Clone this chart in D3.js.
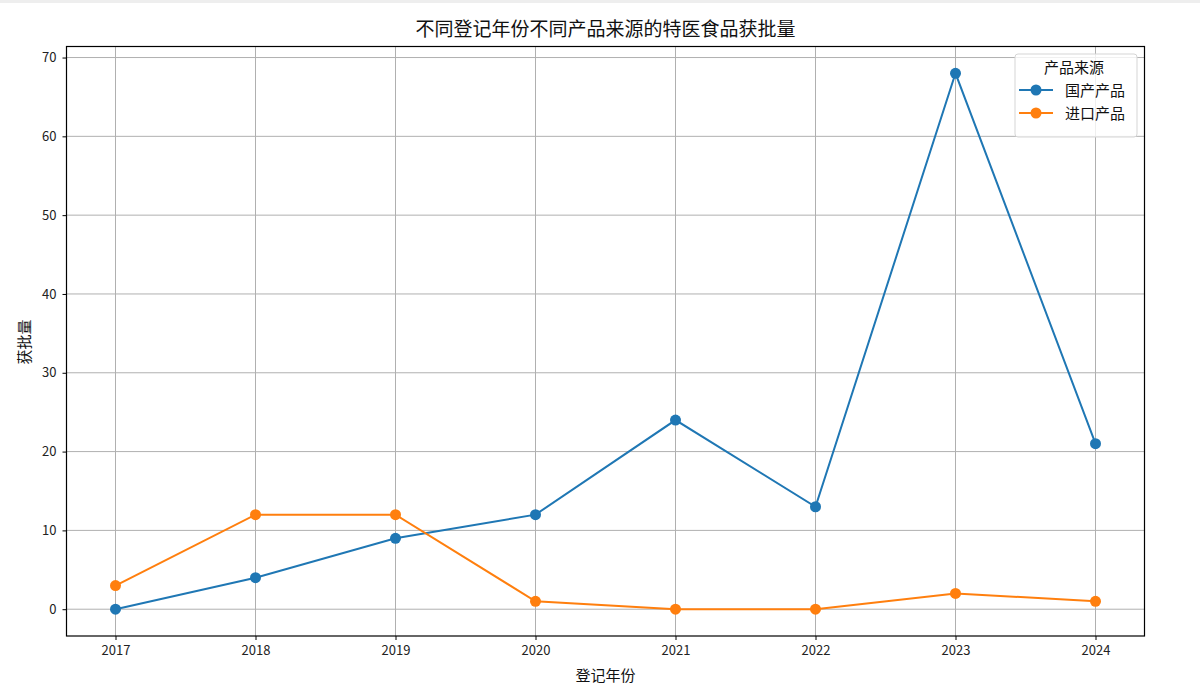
<!DOCTYPE html>
<html><head><meta charset="utf-8">
<script src="https://cdn.jsdelivr.net/npm/d3@7"></script>
<style>
html,body{margin:0;padding:0;background:#fff;}
svg{display:block;font-family:"Noto Sans CJK SC","DejaVu Sans",sans-serif;}
</style></head>
<body>
<svg id="chart" width="1200" height="694"></svg>
<script>
const years = [2017, 2018, 2019, 2020, 2021, 2022, 2023, 2024];
const seriesNames = ["国产产品", "进口产品"];
const domestic = [0, 4, 9, 12, 24, 13, 68, 21];
const imported = [3, 12, 12, 1, 0, 0, 2, 1];
const yTicks = [0, 10, 20, 30, 40, 50, 60, 70];
const colors = ["#1f77b4", "#ff7f0e"];
const titleText = "不同登记年份不同产品来源的特医食品获批量";
const xLabel = "登记年份";
const yLabel = "获批量";
const legendTitle = "产品来源";

const svg = d3.select("#chart");
const L = 66.5, R = 1144.5, T = 46.5, B = 636;

svg.append("rect").attr("x",0).attr("y",0).attr("width",1200).attr("height",3).attr("fill","#eeeeee");

const x = d3.scaleLinear().domain([2017 - 0.35, 2024 + 0.35]).range([L, R]);
const y = d3.scaleLinear().domain([-3.4, 71.4]).range([B, T]);

// grid
const g = svg.append("g");
g.selectAll(".vg").data(years).enter().append("line")
  .attr("x1", d => x(d)).attr("x2", d => x(d)).attr("y1", T).attr("y2", B)
  .attr("stroke", "#b0b0b0").attr("stroke-width", 1);
g.selectAll(".hg").data(yTicks).enter().append("line")
  .attr("x1", L).attr("x2", R).attr("y1", d => y(d)).attr("y2", d => y(d))
  .attr("stroke", "#b0b0b0").attr("stroke-width", 1);

// axes
const xAxis = d3.axisBottom(x).tickValues(years).tickFormat(d3.format("d")).tickSize(4).tickPadding(6);
const yAxis = d3.axisLeft(y).tickValues(yTicks).tickSize(4).tickPadding(6);
const xa = svg.append("g").attr("transform", `translate(0,${B})`).call(xAxis);
const ya = svg.append("g").attr("transform", `translate(${L},0)`).call(yAxis);
[xa, ya].forEach(a => {
  a.select(".domain").remove();
  a.selectAll("line").attr("stroke", "#000");
  a.selectAll("text").attr("font-size", 13).attr("fill", "#222").attr("font-family", '"Noto Sans CJK SC","DejaVu Sans",sans-serif');
});

// frame
svg.append("rect").attr("x", L).attr("y", T).attr("width", R - L).attr("height", B - T)
  .attr("fill", "none").attr("stroke", "#000").attr("stroke-width", 1.2);

// lines
const data = [domestic, imported];
const line = d3.line().x((d, i) => x(years[i])).y(d => y(d));
data.forEach((vals, k) => {
  svg.append("path").datum(vals).attr("d", line)
    .attr("fill", "none").attr("stroke", colors[k]).attr("stroke-width", 2);
  svg.selectAll(".pt" + k).data(vals).enter().append("circle")
    .attr("cx", (d, i) => x(years[i])).attr("cy", d => y(d)).attr("r", 5.5)
    .attr("fill", colors[k]);
});

// title & labels
svg.append("text").attr("x", (L + R) / 2).attr("y", 36).attr("text-anchor", "middle")
  .attr("font-size", 19).attr("fill", "#111").text(titleText);
svg.append("text").attr("x", (L + R) / 2).attr("y", 681).attr("text-anchor", "middle")
  .attr("font-size", 15).attr("fill", "#111").text(xLabel);
svg.append("text").attr("transform", `translate(30,${342}) rotate(-90)`).attr("text-anchor", "middle")
  .attr("font-size", 15).attr("fill", "#111").text(yLabel);

// legend
const lg = svg.append("g");
lg.append("rect").attr("x", 1015).attr("y", 54).attr("width", 122).attr("height", 83).attr("rx", 3)
  .attr("fill", "#fff").attr("fill-opacity", 0.8).attr("stroke", "#d5d5d5");
lg.append("text").attr("x", 1074).attr("y", 72.5).attr("text-anchor", "middle").attr("font-size", 15)
  .attr("fill", "#111").text(legendTitle);
seriesNames.forEach((name, k) => {
  const yy = 90 + k * 23;
  lg.append("line").attr("x1", 1019).attr("x2", 1053).attr("y1", yy).attr("y2", yy)
    .attr("stroke", colors[k]).attr("stroke-width", 2);
  lg.append("circle").attr("cx", 1036).attr("cy", yy).attr("r", 5.5).attr("fill", colors[k]);
  lg.append("text").attr("x", 1065).attr("y", yy + 5.5).attr("font-size", 15).attr("fill", "#111").text(name);
});
</script>
</body></html>
